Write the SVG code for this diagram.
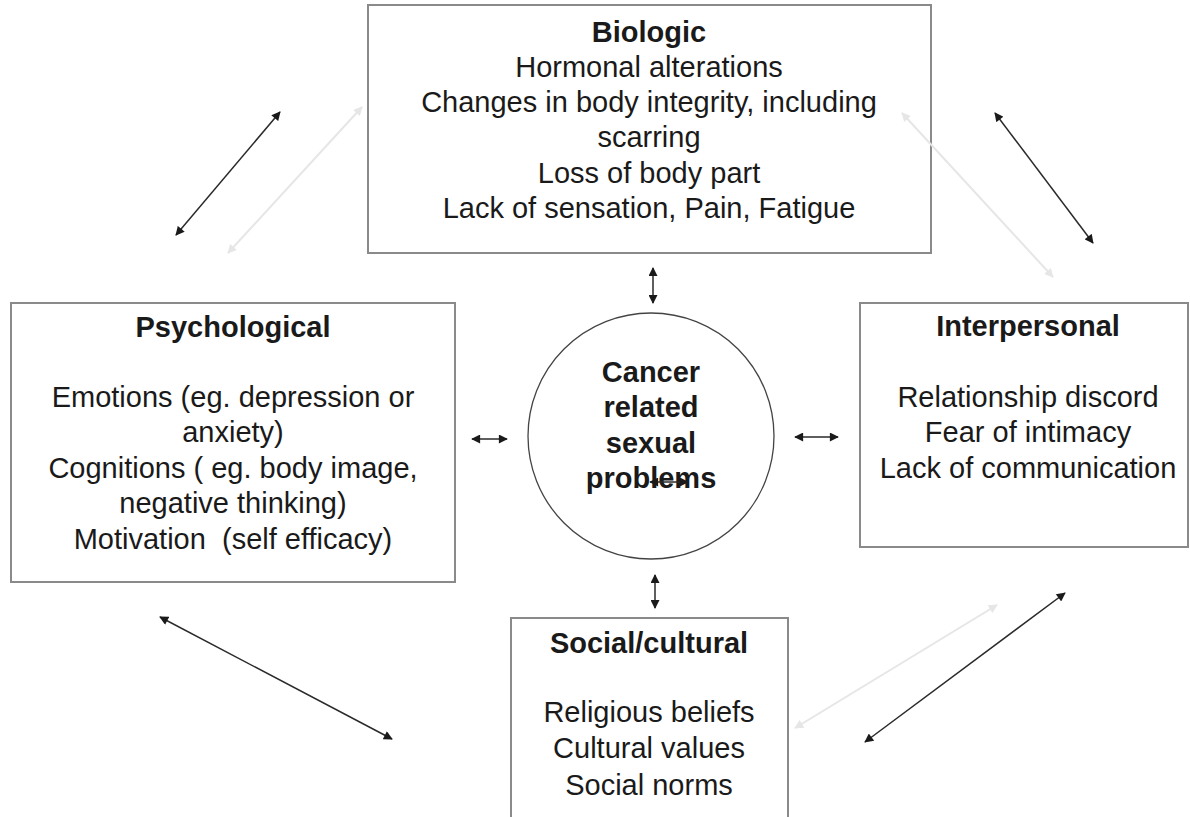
<svg xmlns="http://www.w3.org/2000/svg" width="1190" height="817" viewBox="0 0 1190 817">
<style>
.box{fill:#fff;stroke:#8a8a8a;stroke-width:2}
.t{font-family:"Liberation Sans",Arial,sans-serif;font-size:29px;fill:#1a1a1a;text-anchor:middle}
.b{font-weight:bold}
.c{stroke:#2a2a2a;stroke-width:1.5;fill:none;marker-start:url(#ah);marker-end:url(#ah)}
.f{stroke:#e6e6e6;stroke-width:2;fill:none;marker-start:url(#fh);marker-end:url(#fh)}
</style>
<defs>
<marker id="ah" viewBox="0 0 10 10" refX="9" refY="5" markerWidth="10" markerHeight="9" markerUnits="userSpaceOnUse" orient="auto-start-reverse">
<path d="M0,0 L10,5 L0,10 z" fill="#1a1a1a"/>
</marker>
<marker id="fh" viewBox="0 0 10 10" refX="9" refY="5" markerWidth="10" markerHeight="9" markerUnits="userSpaceOnUse" orient="auto-start-reverse">
<path d="M0,0 L10,5 L0,10 z" fill="#e6e6e6"/>
</marker>
</defs>
<rect width="1190" height="817" fill="#fff"/>
<g id="biologic">
<rect class="box" x="368" y="5" width="563" height="248"/>
<text class="t b" x="649" y="42">Biologic</text>
<text class="t" x="649" y="77">Hormonal alterations</text>
<text class="t" x="649" y="112">Changes in body integrity, including</text>
<text class="t" x="649" y="147">scarring</text>
<text class="t" x="649" y="183">Loss of body part</text>
<text class="t" x="649" y="218">Lack of sensation, Pain, Fatigue</text>
</g>
<g id="psychological">
<rect class="box" x="11" y="303" width="444" height="279"/>
<text class="t b" x="233" y="337">Psychological</text>
<text class="t" x="233" y="407">Emotions (eg. depression or</text>
<text class="t" x="233" y="442">anxiety)</text>
<text class="t" x="233" y="478">Cognitions ( eg. body image,</text>
<text class="t" x="233" y="513">negative thinking)</text>
<text class="t" x="233" y="549">Motivation&#160; (self efficacy)</text>
</g>
<g id="interpersonal">
<rect class="box" x="860" y="303" width="328" height="244"/>
<text class="t b" x="1028" y="336">Interpersonal</text>
<text class="t" x="1028" y="407">Relationship discord</text>
<text class="t" x="1028" y="442">Fear of intimacy</text>
<text class="t" x="1028" y="478">Lack of communication</text>
</g>
<g id="social">
<rect class="box" x="511" y="618" width="277" height="220"/>
<text class="t b" x="649" y="653">Social/cultural</text>
<text class="t" x="649" y="722">Religious beliefs</text>
<text class="t" x="649" y="758">Cultural values</text>
<text class="t" x="649" y="795">Social norms</text>
</g>
<g id="center">
<circle cx="651" cy="436" r="123" fill="#fff" stroke="#444" stroke-width="1.3"/>
<text class="t b" x="651" y="382">Cancer</text>
<text class="t b" x="651" y="417">related</text>
<text class="t b" x="651" y="453">sexual</text>
<text class="t b" x="651" y="488">problems</text>
</g>
<g id="connectors">
<line class="f" x1="228" y1="253" x2="362" y2="107"/>
<line class="f" x1="902" y1="113" x2="1053" y2="277"/>
<line class="f" x1="795" y1="728" x2="997" y2="605"/>
<line class="c" x1="176" y1="235" x2="280" y2="112"/>
<line class="c" x1="995" y1="113" x2="1093" y2="243"/>
<line class="c" x1="160" y1="617" x2="392" y2="739"/>
<line class="c" x1="865" y1="742" x2="1065" y2="593"/>
<line class="c" x1="653" y1="268" x2="653" y2="303"/>
<line class="c" x1="655" y1="575" x2="655" y2="608"/>
<line class="c" x1="472" y1="439" x2="507" y2="439"/>
<line class="c" x1="795" y1="437" x2="838" y2="437"/>
<line class="c" x1="650" y1="482" x2="688" y2="482"/>
</g>
</svg>
